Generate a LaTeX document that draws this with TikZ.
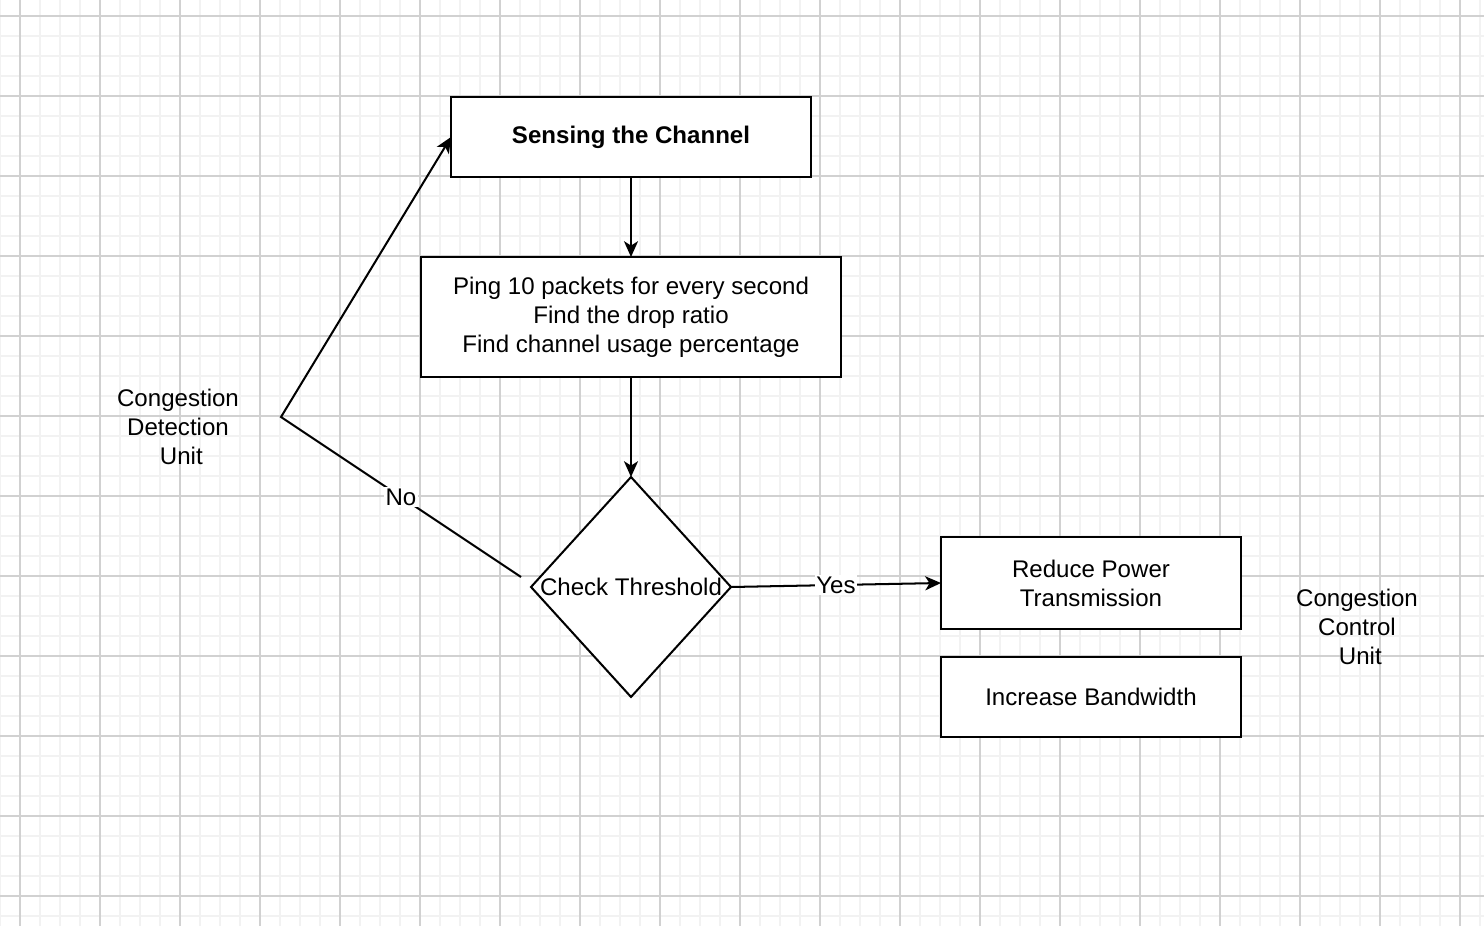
\documentclass[tikz,border=0pt]{standalone}
\usepackage{fontspec}
\setmainfont{Liberation Sans}
\usetikzlibrary{arrows.meta,shapes.geometric,positioning}

\begin{document}
\begin{tikzpicture}[x=0.02cm, y=-0.02cm,
  minorline/.style={line width=0.8pt, color=black!5},
  majorline/.style={line width=0.6pt, color=black!18},
  txt/.style={font=\fontsize{13.7}{16.5}\selectfont, align=center},
  stepbox/.style={txt, draw, fill=white, line width=1.15pt, inner sep=0pt, outer sep=0pt},
  decision/.style={diamond, draw, fill=white, line width=1.15pt, inner sep=0pt, outer sep=0pt,
                   minimum width=4cm, minimum height=4.4cm},
  flow/.style={line width=1.15pt, -{Stealth[length=9pt, width=8pt, inset=2.5pt]}},
  edgelabel/.style={txt, fill=white, inner sep=1pt}]

\useasboundingbox (0,0) rectangle (1484,926);
\fill[white] (0,0) rectangle (1484,926);
\foreach \x in {0,20,...,1480} \draw[minorline] (\x,0) -- (\x,926);
\foreach \y in {16,36,...,916} \draw[minorline] (0,\y) -- (1484,\y);
\foreach \x in {20,100,...,1460} \draw[majorline] (\x,0) -- (\x,926);
\foreach \y in {16,96,...,896} \draw[majorline] (0,\y) -- (1484,\y);

\node[stepbox, font=\fontsize{13.7}{16.5}\selectfont\bfseries,
      minimum width=7.2cm, minimum height=1.6cm] (sense) at (631,137) {Sensing the Channel};
\node[stepbox, minimum width=8.4cm, minimum height=2.4cm] (ping) at (631,317)
  {Ping 10 packets for every second\\Find the drop ratio\\Find channel usage percentage};
\node[decision, label={[txt]center:Check Threshold}] (check) at (631,587) {};
\node[stepbox, minimum width=6cm, minimum height=1.84cm] (reduce) at (1091,583)
  {Reduce Power\\Transmission};
\node[stepbox, minimum width=6cm, minimum height=1.6cm] (increase) at (1091,697)
  {Increase Bandwidth};
\node[txt] (detect) at (178,427) {Congestion\\Detection\\\ Unit};
\node[txt] (control) at (1357,627) {Congestion\\Control\\\ Unit};

\coordinate (nostart) at (521,577);
\coordinate (nobend) at (281,417);

\draw[flow] (sense) -- (ping);
\draw[flow] (ping) -- (check);
\draw[flow] (check.east) -- node[edgelabel] {Yes} (reduce.west);
\draw[flow] (nostart) -- node[edgelabel] {No} (nobend) -- (sense.west);
\end{tikzpicture}
\end{document}
